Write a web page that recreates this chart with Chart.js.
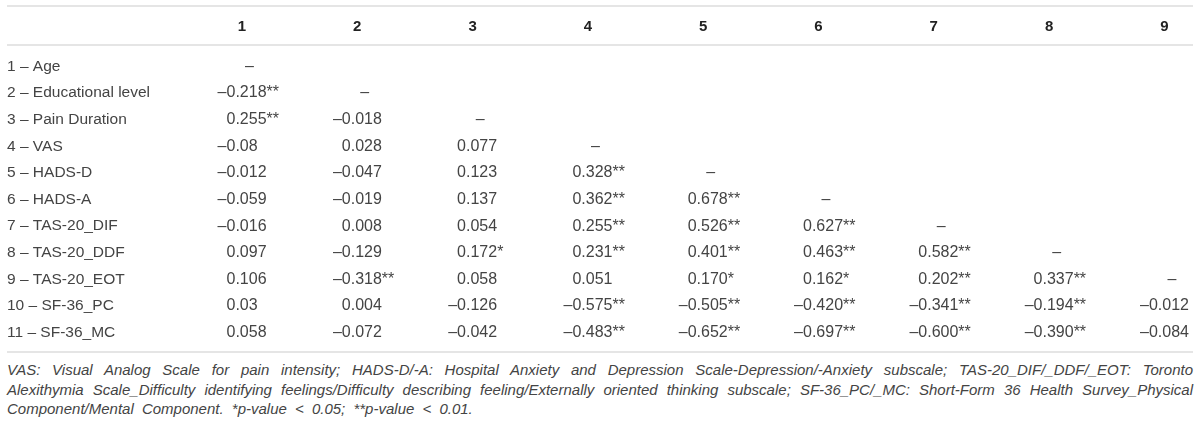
<!DOCTYPE html>
<html>
<head>
<meta charset="utf-8">
<script src="https://cdn.jsdelivr.net/npm/chart.js@4.4.1/dist/chart.umd.min.js"></script>
<style>
  html, body { margin: 0; padding: 0; background: #fff; }
  #wrap { position: relative; width: 1200px; height: 425px; overflow: hidden; }
  #box { position: absolute; left: 0; top: 0; width: 1200px; height: 356px; }
  #note { position: absolute; left: 7px; top: 360px; width: 1186px;
          font: italic 15px "Liberation Sans", Arial, sans-serif;
          line-height: 19.5px; color: #444; }
  #note .j { text-align: justify; text-align-last: justify; white-space: nowrap; }
  #note .last { word-spacing: 4px; }
</style>
</head>
<body>
<div id="wrap">
  <div id="box"><canvas id="table"></canvas></div>
  <div id="note">
    <div class="j">VAS: Visual Analog Scale for pain intensity; HADS-D/-A: Hospital Anxiety and Depression Scale-Depression/-Anxiety subscale; TAS-20_DIF/_DDF/_EOT: Toronto</div>
    <div class="j">Alexithymia Scale_Difficulty identifying feelings/Difficulty describing feeling/Externally oriented thinking subscale; SF-36_PC/_MC: Short-Form 36 Health Survey_Physical</div>
    <div class="last">Component/Mental Component. *p-value &lt; 0.05; **p-value &lt; 0.01.</div>
  </div>
</div>
<script>
const colLabels = ['1', '2', '3', '4', '5', '6', '7', '8', '9'];
const rowLabels = [
    '1 – Age', '2 – Educational level', '3 – Pain Duration', '4 – VAS',
    '5 – HADS-D', '6 – HADS-A', '7 – TAS-20_DIF', '8 – TAS-20_DDF',
    '9 – TAS-20_EOT', '10 – SF-36_PC', '11 – SF-36_MC'
];

// each column: correlations with the rows below the diagonal, as printed
const col1 = ['–0.218**', '0.255**', '–0.08', '–0.012', '–0.059', '–0.016', '0.097', '0.106', '0.03', '0.058'];
const col2 = ['–0.018', '0.028', '–0.047', '–0.019', '0.008', '–0.129', '–0.318**', '0.004', '–0.072'];
const col3 = ['0.077', '0.123', '0.137', '0.054', '0.172*', '0.058', '–0.126', '–0.042'];
const col4 = ['0.328**', '0.362**', '0.255**', '0.231**', '0.051', '–0.575**', '–0.483**'];
const col5 = ['0.678**', '0.526**', '0.401**', '0.170*', '–0.505**', '–0.652**'];
const col6 = ['0.627**', '0.463**', '0.162*', '–0.420**', '–0.697**'];
const col7 = ['0.582**', '0.202**', '–0.341**', '–0.600**'];
const col8 = ['0.337**', '–0.194**', '–0.390**'];
const col9 = ['–0.012', '–0.084'];
const diagonal = '–';

const columns = [col1, col2, col3, col4, col5, col6, col7, col8, col9];

const cells = [];
columns.forEach((vals, j) => {
    cells.push({ x: j + 1, y: rowLabels[j], t: diagonal });
    vals.forEach((v, k) => {
        cells.push({ x: j + 1, y: rowLabels[j + 1 + k], t: v });
    });
});

const FONT = '"Liberation Sans", Arial, sans-serif';

const tablePlugin = {
    id: 'tableText',
    afterDatasetsDraw(chart) {
        const ctx = chart.ctx;
        const area = chart.chartArea;
        const left = chart.scales.y.left;

        ctx.save();
        ctx.strokeStyle = '#dcdcdc';
        ctx.lineWidth = 1.5;
        [chart.scales.x.top + 6, area.top - 8, area.bottom + 6].forEach(y => {
            ctx.beginPath();
            ctx.moveTo(left, y);
            ctx.lineTo(area.right, y);
            ctx.stroke();
        });

        ctx.font = '16px ' + FONT;
        ctx.fillStyle = '#444';
        ctx.textBaseline = 'middle';
        const dashW = ctx.measureText('–').width;

        chart.getDatasetMeta(0).data.forEach((el, i) => {
            const t = cells[i].t;
            if (t === diagonal) {
                ctx.textAlign = 'center';
                ctx.fillText(t, el.x + 7.5, el.y);
            } else {
                ctx.textAlign = 'left';
                const x0 = el.x - 15.5 - (t.startsWith('–') ? dashW : 0);
                ctx.fillText(t, x0, el.y);
            }
        });
        ctx.restore();
    }
};

new Chart(document.getElementById('table'), {
    type: 'scatter',
    data: {
        datasets: [{
            data: cells,
            pointRadius: 0,
            pointHoverRadius: 0
        }]
    },
    options: {
        responsive: true,
        maintainAspectRatio: false,
        animation: false,
        events: [],
        layout: { padding: { left: 7, right: 7, top: 0, bottom: 10 } },
        plugins: {
            legend: { display: false },
            tooltip: { enabled: false }
        },
        scales: {
            x: {
                type: 'linear',
                position: 'top',
                min: 0.4363,
                max: 9.2481,
                afterBuildTicks: s => { s.ticks = colLabels.map((c, i) => ({ value: i + 1 })); },
                afterFit: s => { s.height = 53; },
                grid: { display: false, drawTicks: false },
                border: { display: false },
                ticks: {
                    padding: 17,
                    autoSkip: false,
                    maxRotation: 0,
                    color: '#222',
                    font: { family: FONT, size: 15, weight: 'bold' },
                    callback: v => colLabels[v - 1]
                }
            },
            y: {
                type: 'category',
                labels: rowLabels,
                offset: true,
                afterFit: s => { s.width = 170; },
                grid: { display: false, drawTicks: false },
                border: { display: false },
                ticks: {
                    crossAlign: 'far',
                    padding: 0,
                    autoSkip: false,
                    color: '#444',
                    font: { family: FONT, size: 15.5 }
                }
            }
        }
    },
    plugins: [tablePlugin]
});
</script>
</body>
</html>
